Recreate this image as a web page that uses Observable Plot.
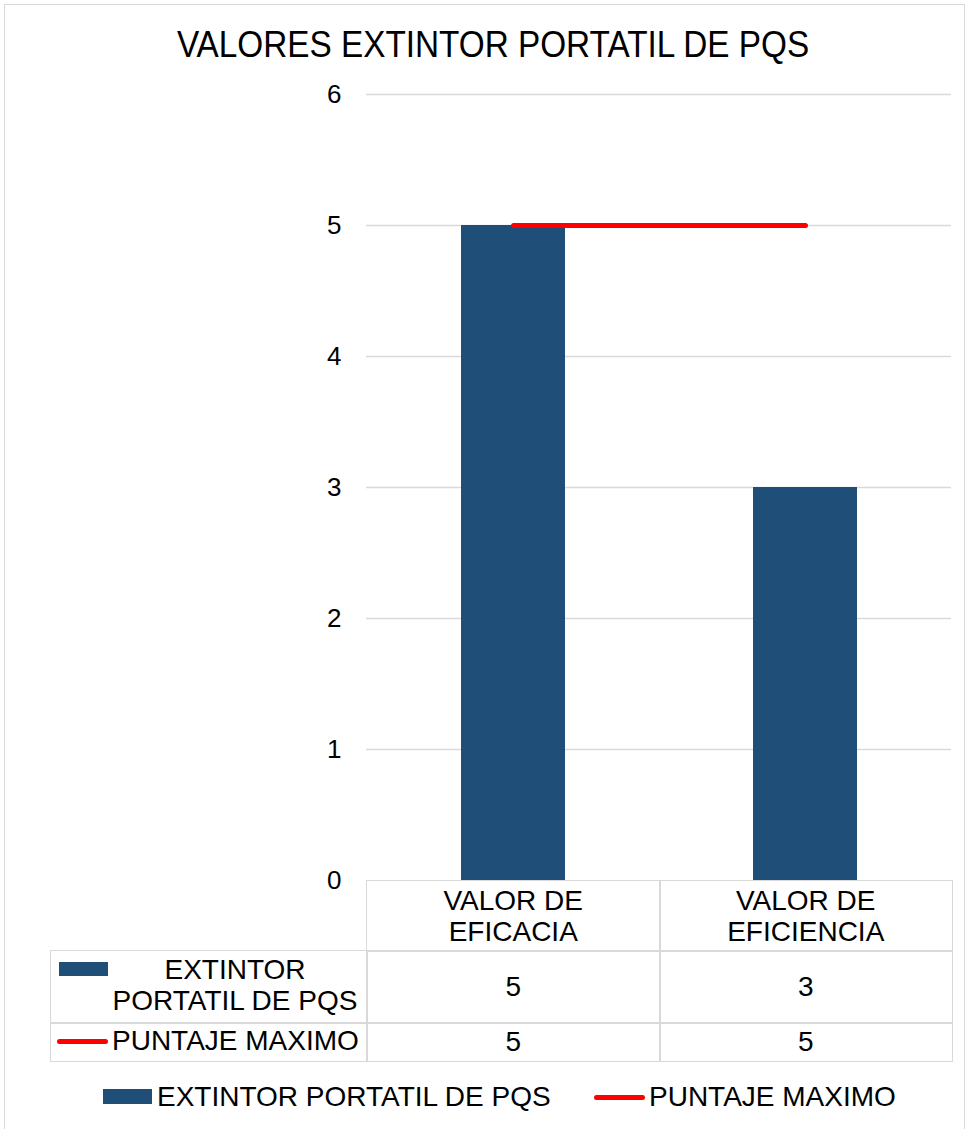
<!DOCTYPE html>
<html><head><meta charset="utf-8">
<script src="https://cdn.jsdelivr.net/npm/d3@7"></script>
<script src="https://cdn.jsdelivr.net/npm/@observablehq/plot@0.6"></script>
<style>
body{margin:0;background:#fff;font-family:"Liberation Sans",Arial,sans-serif;color:#000;}
#wrap{position:relative;width:969px;height:1129px;overflow:hidden;background:#fff;}
#frame{position:absolute;left:4px;top:4px;width:961px;height:1140px;border:1.5px solid #d9d9d9;box-sizing:border-box;}
#title{position:absolute;left:0;top:23px;width:986px;text-align:center;font-size:37px;line-height:44px;transform:scaleX(0.9);transform-origin:493px 0;white-space:nowrap;}
#chart{position:absolute;left:0;top:0;}
.cell{position:absolute;box-sizing:border-box;border:1.5px solid #d9d9d9;font-size:28px;line-height:31px;text-align:center;display:flex;align-items:center;justify-content:center;}
.txt{position:absolute;font-size:28px;line-height:31px;white-space:nowrap;}
.key{position:absolute;}
</style></head><body>
<div id="wrap"><div id="frame"></div><div id="title"></div><div id="chart"></div></div>
<script>
const title = "VALORES EXTINTOR PORTATIL DE PQS";
const categories = ["VALOR DE EFICACIA", "VALOR DE EFICIENCIA"];
const categoryLines = [["VALOR DE", "EFICACIA"], ["VALOR DE", "EFICIENCIA"]];
const seriesNames = ["EXTINTOR PORTATIL DE PQS", "PUNTAJE MAXIMO"];
const extintorValues = [5, 3];
const puntajeValues = [5, 5];
const yTicks = [0, 1, 2, 3, 4, 5, 6];
const barColor = "#1f4e79";
const lineColor = "#ff0000";

const data = categories.map((c, i) => ({cat: c, ext: extintorValues[i], max: puntajeValues[i]}));

document.getElementById("title").textContent = title;

const chart = Plot.plot({
  width: 969, height: 890,
  marginLeft: 366, marginRight: 18, marginTop: 94, marginBottom: 10,
  style: {fontFamily: '"Liberation Sans", Arial, sans-serif', fontSize: "26px", color: "#000", background: "transparent", overflow: "visible"},
  x: {type: "band", domain: categories, paddingInner: 0.644, paddingOuter: 0.322, axis: null},
  y: {domain: [0, 6], axis: null},
  marks: [
    Plot.ruleY(yTicks.filter(t => t > 0), {stroke: "#d9d9d9", strokeWidth: 1.3}),
    Plot.barY(data, {x: "cat", y: "ext", fill: barColor}),
    Plot.lineY(data, {x: "cat", y: "max", stroke: lineColor, strokeWidth: 5, strokeLinecap: "round"}),
    Plot.axisY({ticks: yTicks, tickSize: 0, tickPadding: 25, fontSize: 26, tickFormat: d => String(d), label: null})
  ]
});
document.getElementById("chart").appendChild(chart);

const wrap = document.getElementById("wrap");
function el(cls, css, html) {
  const d = document.createElement("div");
  d.className = cls;
  Object.assign(d.style, css);
  if (html != null) d.innerHTML = html;
  wrap.appendChild(d);
  return d;
}
// table geometry (layout only)
const colX = [50, 366, 659, 951];
const rowY = [880, 950, 1022, 1060];
// header row
categoryLines.forEach((lines, i) => {
  el("cell", {left: colX[i+1] + "px", top: rowY[0] + "px", width: (colX[i+2]-colX[i+1]+1.5) + "px", height: (rowY[1]-rowY[0]+1.5) + "px"}, lines.join("<br>"));
});
// series rows
const seriesValues = [extintorValues, puntajeValues];
seriesNames.forEach((name, r) => {
  el("cell", {left: colX[0] + "px", top: rowY[r+1] + "px", width: (colX[1]-colX[0]+1.5) + "px", height: (rowY[r+2]-rowY[r+1]+1.5) + "px"});
  seriesValues[r].forEach((v, i) => {
    el("cell", {left: colX[i+1] + "px", top: rowY[r+1] + "px", width: (colX[i+2]-colX[i+1]+1.5) + "px", height: (rowY[r+2]-rowY[r+1]+1.5) + "px"}, String(v));
  });
});
// legend keys inside table
el("key", {left: "59px", top: "962px", width: "49px", height: "14px", background: barColor});
el("txt", {left: "110px", top: "954px", width: "250px", textAlign: "center", whiteSpace: "normal"}, "EXTINTOR<br>PORTATIL DE PQS");
el("key", {left: "57px", top: "1039px", width: "51px", height: "5px", background: lineColor, borderRadius: "3px"});
el("txt", {left: "112px", top: "1025px"}, seriesNames[1]);
// bottom legend
el("key", {left: "103px", top: "1089px", width: "49px", height: "15px", background: barColor});
el("txt", {left: "157px", top: "1081px"}, seriesNames[0]);
el("key", {left: "594px", top: "1095px", width: "51px", height: "5px", background: lineColor, borderRadius: "3px"});
el("txt", {left: "649px", top: "1081px"}, seriesNames[1]);
</script>
</body></html>
